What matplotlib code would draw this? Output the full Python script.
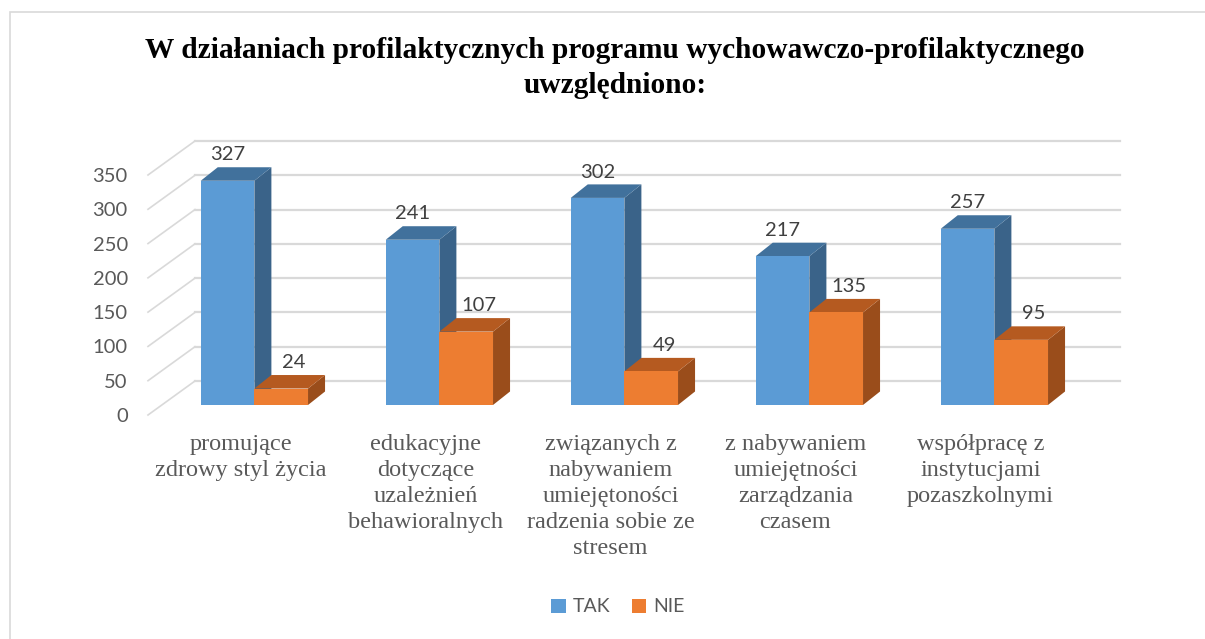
import matplotlib as mpl
mpl.use('Agg')
import matplotlib.pyplot as plt
from matplotlib.patches import Polygon, Patch, Rectangle

# data
categories = ["promujące\nzdrowy styl życia",
              "edukacyjne\ndotyczące\nuzależnień\nbehawioralnych",
              "związanych z\nnabywaniem\numiejętoności\nradzenia sobie ze\nstresem",
              "z nabywaniem\numiejętności\nzarządzania\nczasem",
              "współpracę z\ninstytucjami\npozaszkolnymi"]
tak = [327, 241, 302, 217, 257]
nie = [24, 107, 49, 135, 95]
yticks = [0, 50, 100, 150, 200, 250, 300, 350]
series_names = ["TAK", "NIE"]

title = "W działaniach profilaktycznych programu wychowawczo-profilaktycznego\nuwzględniono:"

# colours: front, top, side
blue = ("#5B9BD5", "#41719C", "#3A6389")
orange = ("#ED7D31", "#B55A20", "#9A4D1B")
grid_c = "#D9D9D9"
text_c = "#595959"

# fake 3d geometry (data units)
WX, WY = 0.254, 49.6      # full depth of the wall
FX, FY = 0.075, 14.6      # bar front plane
BX, BY = 0.092, 19.7      # bar depth
bw = 0.29

fig = plt.figure(figsize=(12.05, 6.39), dpi=100)
ax = fig.add_axes([148/1205, 224/639, 925/1205, 240/639])
ax.set_xlim(0, 5)
ax.set_ylim(0, 350)
for s in ax.spines.values():
    s.set_visible(False)

# walls
for t in yticks:
    ax.plot([WX, 5 + WX], [t + WY, t + WY], color=grid_c, lw=1.6, clip_on=False, zorder=1)
    ax.plot([0, WX], [t, t + WY], color=grid_c, lw=1.2, clip_on=False, zorder=1)


def bar3d(x0, v, cols, lab_dx):
    x = x0 + FX
    y = FY
    front = Polygon([(x, y), (x + bw, y), (x + bw, y + v), (x, y + v)], closed=True,
                    facecolor=cols[0], edgecolor='none', clip_on=False, zorder=3)
    top = Polygon([(x, y + v), (x + bw, y + v), (x + bw + BX, y + v + BY), (x + BX, y + v + BY)],
                  closed=True, facecolor=cols[1], edgecolor='none', clip_on=False, zorder=3)
    side = Polygon([(x + bw, y), (x + bw + BX, y + BY), (x + bw + BX, y + v + BY), (x + bw, y + v)],
                   closed=True, facecolor=cols[2], edgecolor='none', clip_on=False, zorder=3)
    for p in (side, top, front):
        ax.add_patch(p)
    ax.text(x + bw/2 + lab_dx, y + v + BY + 18, str(v), ha='center', va='center',
            fontsize=14.5, family='Lato', color='#404040', zorder=4)


for i in range(len(categories)):
    bar3d(i + 0.5 - bw, tak[i], blue, 0.0)
    bar3d(i + 0.5, nie[i], orange, 0.07)

ax.set_yticks(yticks)
ax.set_yticklabels([str(t) for t in yticks], fontsize=14.5, family='Lato', color=text_c)
ax.set_xticks([i + 0.5 for i in range(len(categories))])
ax.set_xticklabels(categories, fontsize=17.5, family='Liberation Serif', color=text_c)
for lbl in ax.get_xticklabels():
    lbl.set_linespacing(1.3)
ax.tick_params(axis='y', length=0, pad=14.5)
ax.tick_params(axis='x', length=0, pad=14)

fig.text(615/1205, 1 - 68/639, title, ha='center', va='center', fontsize=21.2,
         fontweight='bold', family='Liberation Serif', color='black', linespacing=1.35)

handles = [Patch(facecolor=blue[0]), Patch(facecolor=orange[0])]
fig.legend(handles, series_names, loc='center', bbox_to_anchor=(618/1205, 1 - 607/639),
           ncol=2, frameon=False, handlelength=0.75, handleheight=0.75, handletextpad=0.35,
           columnspacing=1.1, prop={'family': 'Lato', 'size': 14}, labelcolor=text_c)

fig.add_artist(Rectangle((9.5/1205, -0.1), 1.2, (639 - 12.5)/639 + 0.1, fill=False,
                         edgecolor=grid_c, lw=1.2, transform=fig.transFigure))

fig.savefig("out.png", dpi=100)
plt.close()
